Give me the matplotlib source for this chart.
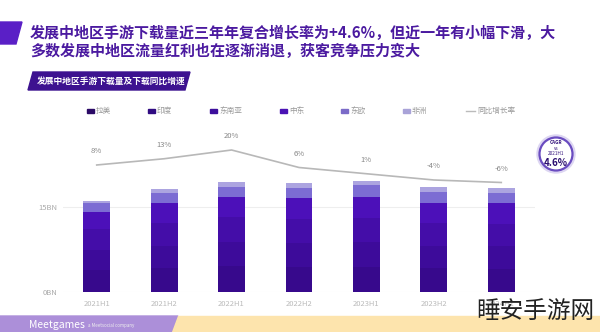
import matplotlib
matplotlib.use("Agg")
import matplotlib.pyplot as plt
from matplotlib.patches import Polygon, Rectangle, Circle

plt.rcParams['font.family'] = ['Noto Sans CJK SC', 'DejaVu Sans']

# half-year periods and downloads by region (BN)
periods = ['2021H1', '2021H2', '2022H1', '2022H2', '2023H1', '2023H2', '2024H1']
regions = ['拉美', '印度', '东南亚', '中东', '东欧', '非洲']
latam = [3.8, 4.2, 4.5, 4.4, 4.4, 4.1, 4.0]
india = [3.5, 3.9, 4.2, 4.2, 4.3, 4.0, 4.0]
sea = [3.7, 4.1, 4.4, 4.3, 4.3, 4.0, 4.0]
mena = [3.1, 3.5, 3.65, 3.7, 3.75, 3.6, 3.6]
east_eu = [1.6, 1.8, 1.75, 1.75, 2.05, 1.9, 1.8]
africa = [0.35, 0.6, 0.9, 0.85, 0.8, 0.9, 0.95]
yoy = [8, 13, 20, 6, 1, -4, -6]

series = [latam, india, sea, mena, east_eu, africa]
colors = ['#37098c', '#3d0b9a', '#440da8', '#4c10b9', '#7c6cd3', '#aca4e0']
legend_colors = ['#2b0a66', '#300b82', '#3c0e9c', '#4a12b4', '#7b6bc8', '#a9a3d8']

W, H = 600, 332
fig = plt.figure(figsize=(W / 100, H / 100), dpi=100)

# page layer in pixel units (origin top-left)
pg = fig.add_axes([0, 0, 1, 1])
pg.set_xlim(0, W)
pg.set_ylim(H, 0)
pg.set_axis_off()

# header block and title
pg.add_patch(Polygon([(0, 22), (22, 22), (16, 44), (0, 44)], closed=True, color='#5a1fc6'))
pg.text(30, 33, '发展中地区手游下载量近三年年复合增长率为+4.6%，但近一年有小幅下滑，大',
        fontsize=10.8, fontweight='bold', color='#4b1aa0', va='center', ha='left')
pg.text(30, 51, '多数发展中地区流量红利也在逐渐消退，获客竞争压力变大',
        fontsize=10.8, fontweight='bold', color='#4b1aa0', va='center', ha='left')

# subtitle band
pg.add_patch(Polygon([(33, 72), (190, 72), (185, 90), (28, 90)], closed=True, color='#3d1290'))
pg.text(37, 81, '发展中地区手游下载量及下载同比增速', fontsize=6.3, fontweight='bold',
        color='white', va='center', ha='left')

# legend row
legend_x = [87, 148, 210, 280, 341, 403]
ly = 111
for x, lab, c in zip(legend_x, regions, legend_colors):
    pg.add_patch(Rectangle((x, ly - 2), 7, 4, color=c))
    pg.text(x + 9, ly, lab, fontsize=5.5, color='#999999', va='center', ha='left')
pg.plot([466, 475], [ly, ly], color='#bbbbbb', lw=1)
pg.text(477, ly, '同比增长率', fontsize=5.5, color='#999999', va='center', ha='left')

# CAGR badge
cx, cy, r = 556, 154, 19
pg.add_patch(Circle((cx, cy), r, color='#ddd6f2'))
pg.add_patch(Circle((cx, cy), r - 2.5, facecolor='white', edgecolor='#6a4cc0', lw=1.6))
pg.text(cx, cy - 11, 'CAGR', fontsize=3.4, color='#3a1a80', ha='center', va='center',
        fontweight='bold')
pg.text(cx, cy - 5.5, 'vs', fontsize=3.4, color='#3a1a80', ha='center', va='center')
pg.text(cx, cy - 0.5, '2021H1', fontsize=3.4, color='#3a1a80', ha='center', va='center')
pg.text(cx, cy + 8.5, '4.6%', fontsize=7, color='#2a0d70', ha='center', va='center',
        fontweight='bold', style='italic')

# footer
pg.add_patch(Polygon([(0, H), (172, H), (178, 316), (0, 316)], closed=True, color='#ac8fd9'))
pg.add_patch(Polygon([(172, H), (W, H), (W, 316), (178, 316)], closed=True, color='#fde4ad'))
pg.text(29, 325, 'Meetgames', fontsize=7.5, color='white', va='center', ha='left')
pg.text(88, 325, 'a Meetsocial company', fontsize=3.2, color='#eeeeee', va='center', ha='left')

# main chart
ax = fig.add_axes([63 / W, 1 - 291.7 / H, (535 - 63) / W, (291.7 - 140) / H])
ax.patch.set_alpha(0)
x = range(len(periods))
bottom = [0] * len(periods)
for vals, c in zip(series, colors):
    ax.bar(x, vals, width=0.4, bottom=bottom, color=c, edgecolor='none')
    bottom = [b + v for b, v in zip(bottom, vals)]

ax.set_xlim(-0.5, 6.5)
ax.set_ylim(0, 26.77)
ax.set_yticks([0, 15])
ax.set_yticklabels(['0BN', '15BN'], fontsize=5.5, color='#aaaaaa')
ax.set_xticks(list(x))
ax.set_xticklabels(periods, fontsize=5.5, color='#bbbbbb')
ax.tick_params(length=0, pad=6)
ax.tick_params(axis='y', pad=4)
for s in ax.spines.values():
    s.set_visible(False)
ax.yaxis.grid(True, color='#eeeeee', lw=0.8)
ax.set_axisbelow(True)

# YoY growth line
ax2 = ax.twinx()
ax2.plot(list(x), yoy, color='#b8b8b8', lw=1.2)
ax2.set_ylim(-93.4, 28)
ax2.set_axis_off()
for i, v in enumerate(yoy):
    ax2.annotate(f'{v}%', (i, v), xytext=(0, 7), textcoords='offset points',
                 ha='center', va='bottom', fontsize=5.5, color='#888888')

# site mark
fig.text(476 / W, 1 - 312 / H, '睡安手游网', fontsize=17, color='#222222',
         va='center', ha='left', zorder=10)

fig.savefig('out.png', dpi=100, facecolor='white')
